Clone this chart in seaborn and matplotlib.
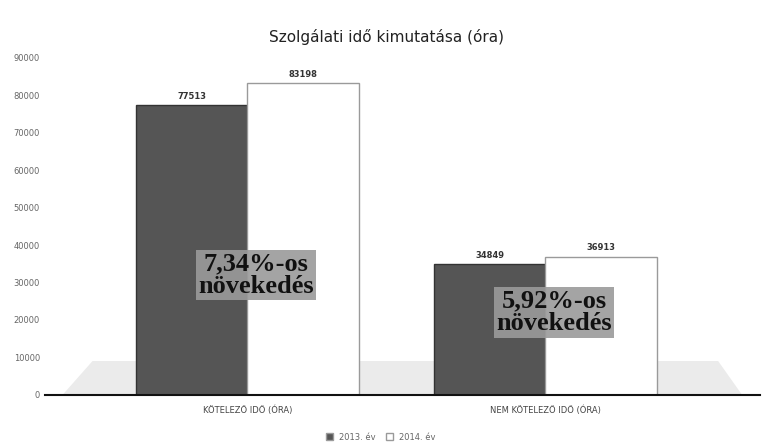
import pandas as pd
import seaborn as sns
import matplotlib.pyplot as plt
from matplotlib.patches import Polygon

# Data
categories = ["KÖTELEZŐ IDŐ (ÓRA)", "NEM KÖTELEZŐ IDŐ (ÓRA)"]
years = ["2013. év", "2014. év"]
hours_2013 = [77513, 34849]
hours_2014 = [83198, 36913]
growth_labels = ["7,34%-os\nnövekedés", "5,92%-os\nnövekedés"]

df = pd.DataFrame({
    "kategoria": categories * 2,
    "ev": [years[0]] * 2 + [years[1]] * 2,
    "ora": hours_2013 + hours_2014,
})

sns.set_style("white")
plt.rcParams["font.family"] = ["DejaVu Sans"]

fig = plt.figure(figsize=(7.73, 4.46), dpi=100)
ax = fig.add_axes([0.058, 0.115, 0.925, 0.755])

# 3D-ish floor under the bars
floor = Polygon([(-0.62, 0), (1.66, 0), (1.58, 9000), (-0.52, 9000)],
                closed=True, facecolor="#ebebeb", edgecolor="none", zorder=0)
ax.add_patch(floor)

sns.barplot(data=df, x="kategoria", y="ora", hue="ev",
            palette=["#555555", "#ffffff"], width=0.75,
            edgecolor="#9a9a9a", linewidth=1.0, ax=ax, zorder=2)

# Darker outline for the 2013 bars
for bar in ax.containers[0]:
    bar.set_edgecolor("#333333")

for cont in ax.containers:
    ax.bar_label(cont, fmt="%d", padding=3, fontsize=6, fontweight="bold",
                 color="#333333")

# growth callouts
ann_x = [0.03, 1.03]
ann_y = [32000, 22000]
for i, txt in enumerate(growth_labels):
    ax.text(ann_x[i], ann_y[i], txt, ha="center", va="center", fontsize=19,
            fontweight="bold", family=["Liberation Serif"], color="#111111",
            linespacing=1.0,
            bbox=dict(boxstyle="square,pad=0.08", facecolor="#9a9a9a",
                      edgecolor="none", alpha=0.9), zorder=5)

ax.set_xlim(-0.68, 1.72)
ax.set_ylim(0, 90000)
ax.set_yticks(range(0, 90001, 10000))
ax.tick_params(axis="y", labelsize=6, colors="#666666", length=0)
ax.tick_params(axis="x", labelsize=6, colors="#444444", length=0, pad=8)
ax.set_xlabel("")
ax.set_ylabel("")
for side in ["top", "right", "left"]:
    ax.spines[side].set_visible(False)
ax.spines["bottom"].set_color("#111111")
ax.spines["bottom"].set_linewidth(1.5)

fig.suptitle("Szolgálati idő kimutatása (óra)", y=0.935, fontsize=11,
             color="#222222")

ax.legend(loc="upper center", bbox_to_anchor=(0.47, -0.09), ncol=2,
          frameon=False, fontsize=6, handlelength=0.8, handleheight=0.8,
          columnspacing=1.2, labelcolor="#666666")

plt.savefig("out.png", dpi=100)
plt.close()
